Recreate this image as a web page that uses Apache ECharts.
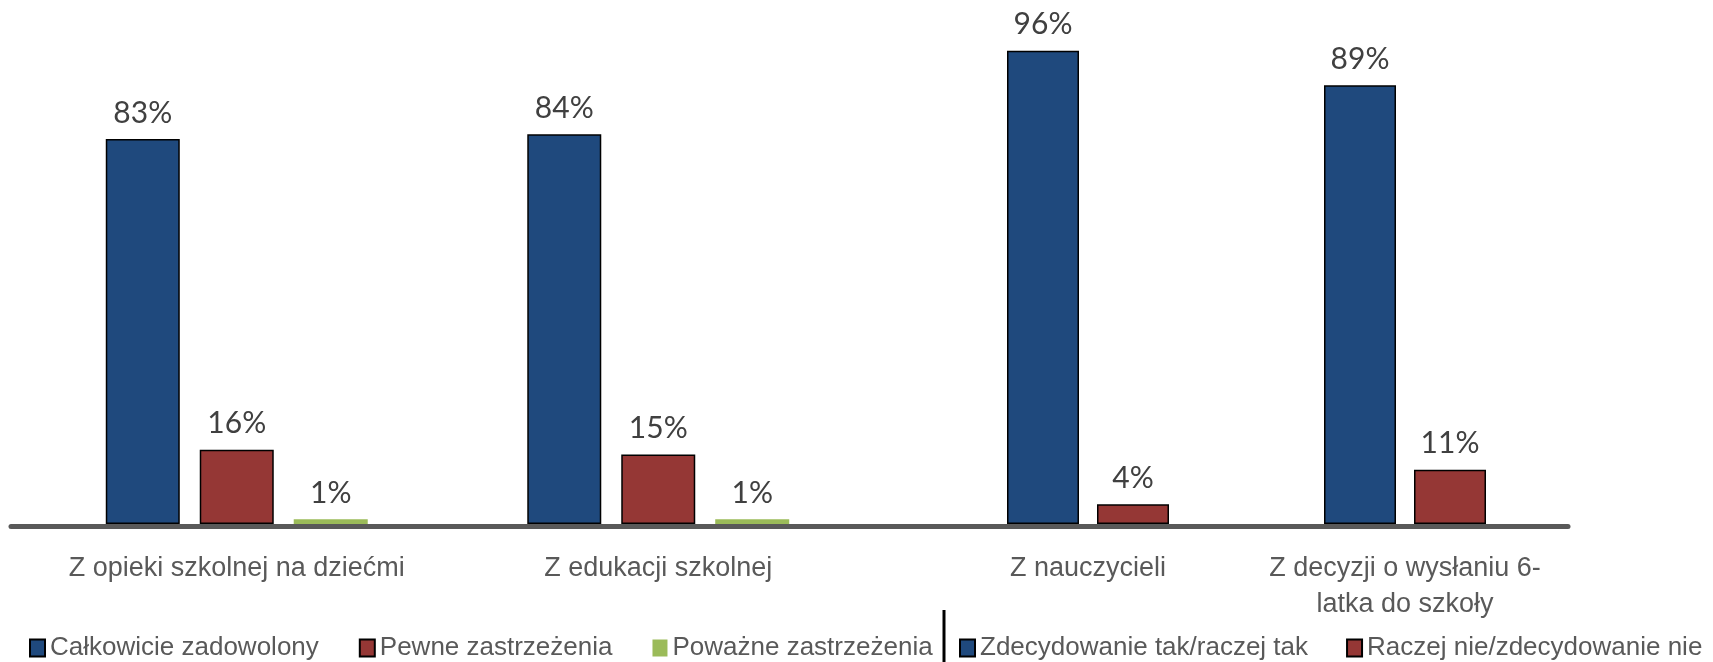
<!DOCTYPE html>
<html>
<head>
<meta charset="utf-8">
<script src="https://cdn.jsdelivr.net/npm/echarts@6/dist/echarts.min.js"></script>
<style>
  html, body { margin: 0; padding: 0; background: #fff; }
  #main { width: 1713px; height: 662px; }
</style>
</head>
<body>
<div id="main"></div>
<script>
// left block: satisfaction
const leftCategories = ['Z opieki szkolnej na dziećmi', 'Z edukacji szkolnej'];
const leftNames = ['Całkowicie zadowolony', 'Pewne zastrzeżenia', 'Poważne zastrzeżenia'];
const fullySatisfied = [83, 84];
const someReservations = [16, 15];
const seriousReservations = [1, 1];

// right block: yes / no
const rightCategories = ['Z nauczycieli', 'Z decyzji o wysłaniu 6-\nlatka do szkoły'];
const rightNames = ['Zdecydowanie tak/raczej tak', 'Raczej nie/zdecydowanie nie'];
const yesValues = [96, 89];
const noValues = [4, 11];

const BLUE = '#1f497d';
const RED = '#953735';
const GREEN = '#9bbb59';
const sans = "'Liberation Sans', Arial, sans-serif";

let chart = echarts.init(document.getElementById('main'), null, { renderer: 'canvas' });

const labelCfg = {
  show: true,
  position: 'top',
  distance: 11,
  formatter: '{c}%',
  fontFamily: 'Lato, sans-serif',
  fontSize: 30,
  color: '#404040'
};

function barSeries(name, data, color, xi, width, gap, bordered) {
  return {
    name: name,
    type: 'bar',
    xAxisIndex: xi,
    yAxisIndex: xi,
    data: data,
    barWidth: width,
    barGap: gap,
    itemStyle: {
      color: color,
      borderColor: bordered ? '#000' : color,
      borderWidth: bordered ? 1.5 : 0
    },
    label: labelCfg,
    emphasis: { disabled: true }
  };
}

const catLabel = {
  interval: 0,
  fontFamily: sans,
  fontSize: 27,
  color: '#595959',
  margin: 27,
  lineHeight: 36
};

const legendText = { fontFamily: sans, fontSize: 26, color: '#595959' };

const option = {
  animation: false,
  backgroundColor: '#fff',
  grid: [
    { left: 26, width: 843, top: 60, bottom: 138 },
    { left: 929.5, width: 634, top: 31, bottom: 138 },
    // only carries the long base line under both blocks
    { left: 11, right: 145, top: 31, bottom: 135.5 }
  ],
  xAxis: [
    { type: 'category', gridIndex: 0, data: leftCategories,
      axisLine: { show: false }, axisTick: { show: false }, axisLabel: catLabel },
    { type: 'category', gridIndex: 1, data: rightCategories,
      axisLine: { show: false }, axisTick: { show: false }, axisLabel: catLabel },
    { type: 'category', gridIndex: 2, data: [''],
      axisLine: { show: true, lineStyle: { color: '#595959', width: 5 } },
      axisTick: { show: false }, axisLabel: { show: false } }
  ],
  yAxis: [
    { type: 'value', gridIndex: 0, min: 0, max: 100, show: false },
    { type: 'value', gridIndex: 1, min: 0, max: 100, show: false },
    { type: 'value', gridIndex: 2, min: 0, max: 100, show: false }
  ],
  legend: [
    {
      data: leftNames,
      left: 24,
      top: 630,
      width: 1200,
      itemWidth: 15,
      itemHeight: 17,
      itemGap: 40,
      icon: 'rect',
      textStyle: legendText
    },
    {
      data: rightNames,
      left: 954,
      top: 630,
      width: 1200,
      itemWidth: 15,
      itemHeight: 17,
      itemGap: 38,
      icon: 'rect',
      textStyle: legendText
    }
  ],
  graphic: [
    { type: 'line', shape: { x1: 944, y1: 610, x2: 944, y2: 662 },
      style: { stroke: '#000', lineWidth: 3 } }
  ],
  series: [
    barSeries(leftNames[0], fullySatisfied, BLUE, 0, 74, '27%', true),
    barSeries(leftNames[1], someReservations, RED, 0, 74, '27%', true),
    barSeries(leftNames[2], seriousReservations, GREEN, 0, 74, '27%', false),
    barSeries(rightNames[0], yesValues, BLUE, 1, 72, '25%', true),
    barSeries(rightNames[1], noValues, RED, 1, 72, '25%', true)
  ]
};

chart.setOption(option);
</script>
</body>
</html>
